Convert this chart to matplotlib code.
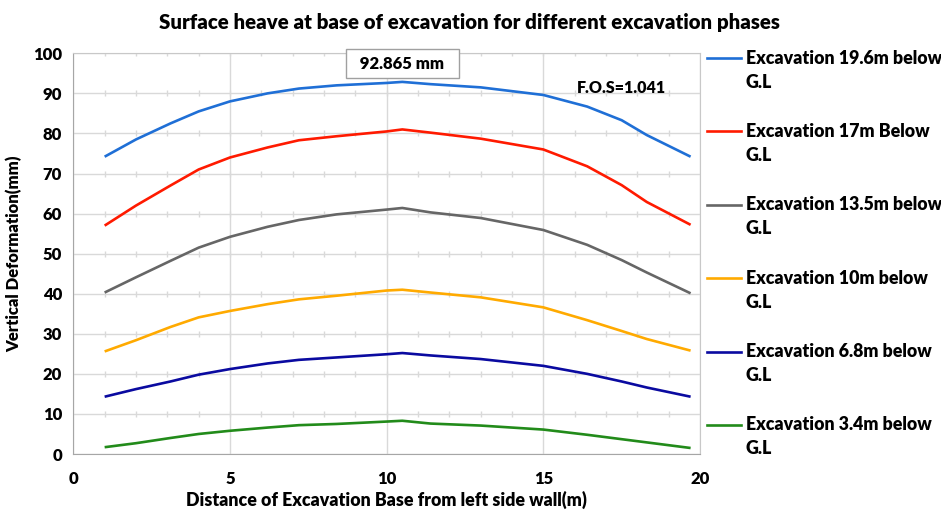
import matplotlib
matplotlib.use('Agg')
import matplotlib.pyplot as plt
import numpy as np

plt.rcParams['font.family'] = ['Lato', 'DejaVu Sans']
plt.rcParams['font.weight'] = 'bold'

# distance from left side wall (m)
distance = [1.0, 2.0, 3.1, 4.0, 5.0, 6.2, 7.2, 8.4, 10.0, 10.5, 11.4, 13.0, 15.0, 16.4, 17.5, 18.3, 19.7]

# vertical heave (mm) per excavation phase
heave_19_6 = [74.2, 78.5, 82.5, 85.5, 88.0, 90.0, 91.2, 92.0, 92.6, 92.865, 92.3, 91.5, 89.6, 86.7, 83.3, 79.6, 74.2]
heave_17 = [57.0, 62.0, 67.0, 71.0, 74.0, 76.5, 78.3, 79.3, 80.5, 81.0, 80.2, 78.7, 76.0, 71.8, 67.1, 62.9, 57.2]
heave_13_5 = [40.3, 44.1, 48.2, 51.5, 54.2, 56.7, 58.4, 59.8, 61.0, 61.4, 60.3, 58.9, 55.9, 52.2, 48.4, 45.3, 40.1]
heave_10 = [25.6, 28.4, 31.7, 34.1, 35.7, 37.4, 38.6, 39.5, 40.8, 41.0, 40.3, 39.1, 36.6, 33.4, 30.7, 28.7, 25.8]
heave_6_8 = [14.3, 16.2, 18.1, 19.8, 21.2, 22.6, 23.5, 24.1, 24.9, 25.2, 24.6, 23.7, 22.0, 20.0, 18.1, 16.6, 14.3]
heave_3_4 = [1.7, 2.7, 4.0, 5.0, 5.8, 6.6, 7.2, 7.5, 8.1, 8.3, 7.6, 7.1, 6.1, 4.8, 3.7, 2.9, 1.5]

labels = ['Excavation 19.6m below\nG.L', 'Excavation 17m Below\nG.L',
          'Excavation 13.5m below\nG.L', 'Excavation 10m below\nG.L',
          'Excavation 6.8m below\nG.L', 'Excavation 3.4m below\nG.L']
series = [heave_19_6, heave_17, heave_13_5, heave_10, heave_6_8, heave_3_4]
colors = ['#1F6FD6', '#FF1A00', '#666666', '#FFAA00', '#0A0AA0', '#228B1A']

peak_value = 92.865
fos = 1.041

W = 'heavy'

fig = plt.figure(figsize=(9.41, 5.14), dpi=100)
ax = fig.add_axes([0.0779, 0.1167, 0.666, 0.7796])

for s, c in zip(series, colors):
    ax.plot(distance, s, color=c, lw=1.9, solid_capstyle='butt')

ax.set_xlim(0, 20)
ax.set_ylim(0, 100)
ax.set_xticks([0, 5, 10, 15, 20])
ax.set_yticks(np.arange(0, 101, 10))
ax.grid(True, color='#d9d9d9', lw=1.0)
ax.set_axisbelow(True)

# small minor marks on the horizontal gridlines (excel look)
mx, my = np.meshgrid(np.arange(1, 20), np.arange(10, 101, 10))
ax.plot(mx.ravel(), my.ravel(), ls='none', marker='|', ms=5, mew=1.0, color='#d9d9d9', zorder=0)

for sp in ax.spines.values():
    sp.set_color('#c8c8c8')
ax.spines['left'].set_color('#a6a6a6')
ax.spines['bottom'].set_color('#a6a6a6')
ax.tick_params(length=0, labelsize=12)
ax.tick_params(axis='x', pad=12)
ax.tick_params(axis='y', pad=8)
for lab in ax.get_xticklabels() + ax.get_yticklabels():
    lab.set_fontweight(W)

ax.set_xlabel('Distance of Excavation Base from left side wall(m)', fontsize=12.8,
              fontweight=W, labelpad=3)
ax.set_ylabel('Vertical Deformation(mm)', fontsize=12, fontweight=W, labelpad=8)
fig.suptitle('Surface heave at base of excavation for different excavation phases',
             x=0.499, y=0.975, fontsize=14.7, fontweight=W)

peak_x = distance[heave_19_6.index(peak_value)]
ax.text(peak_x, 97.4, '  %.3f mm  ' % peak_value, ha='center', va='center',
        fontsize=12, fontweight=W,
        bbox=dict(boxstyle='square,pad=0.4', fc='white', ec='#a0a0a0', lw=1.0))
ax.text(17.5, 91.3, 'F.O.S=%.3f' % fos, ha='center', va='center', fontsize=11.5, fontweight=W)

# legend on the right, one entry per phase
for i, (lab, c) in enumerate(zip(labels, colors)):
    ytop = 1 - (58 + i * 73.4) / 514
    fig.add_artist(plt.Line2D([707 / 941, 741 / 941], [ytop, ytop], color=c, lw=1.9))
    fig.text(746 / 941, ytop, lab.split('\n')[0], fontsize=12.8, fontweight=W, va='center')
    fig.text(746 / 941, ytop - 24 / 514, lab.split('\n')[1], fontsize=12.8, fontweight=W, va='center')

plt.savefig('out.png', dpi=100)
